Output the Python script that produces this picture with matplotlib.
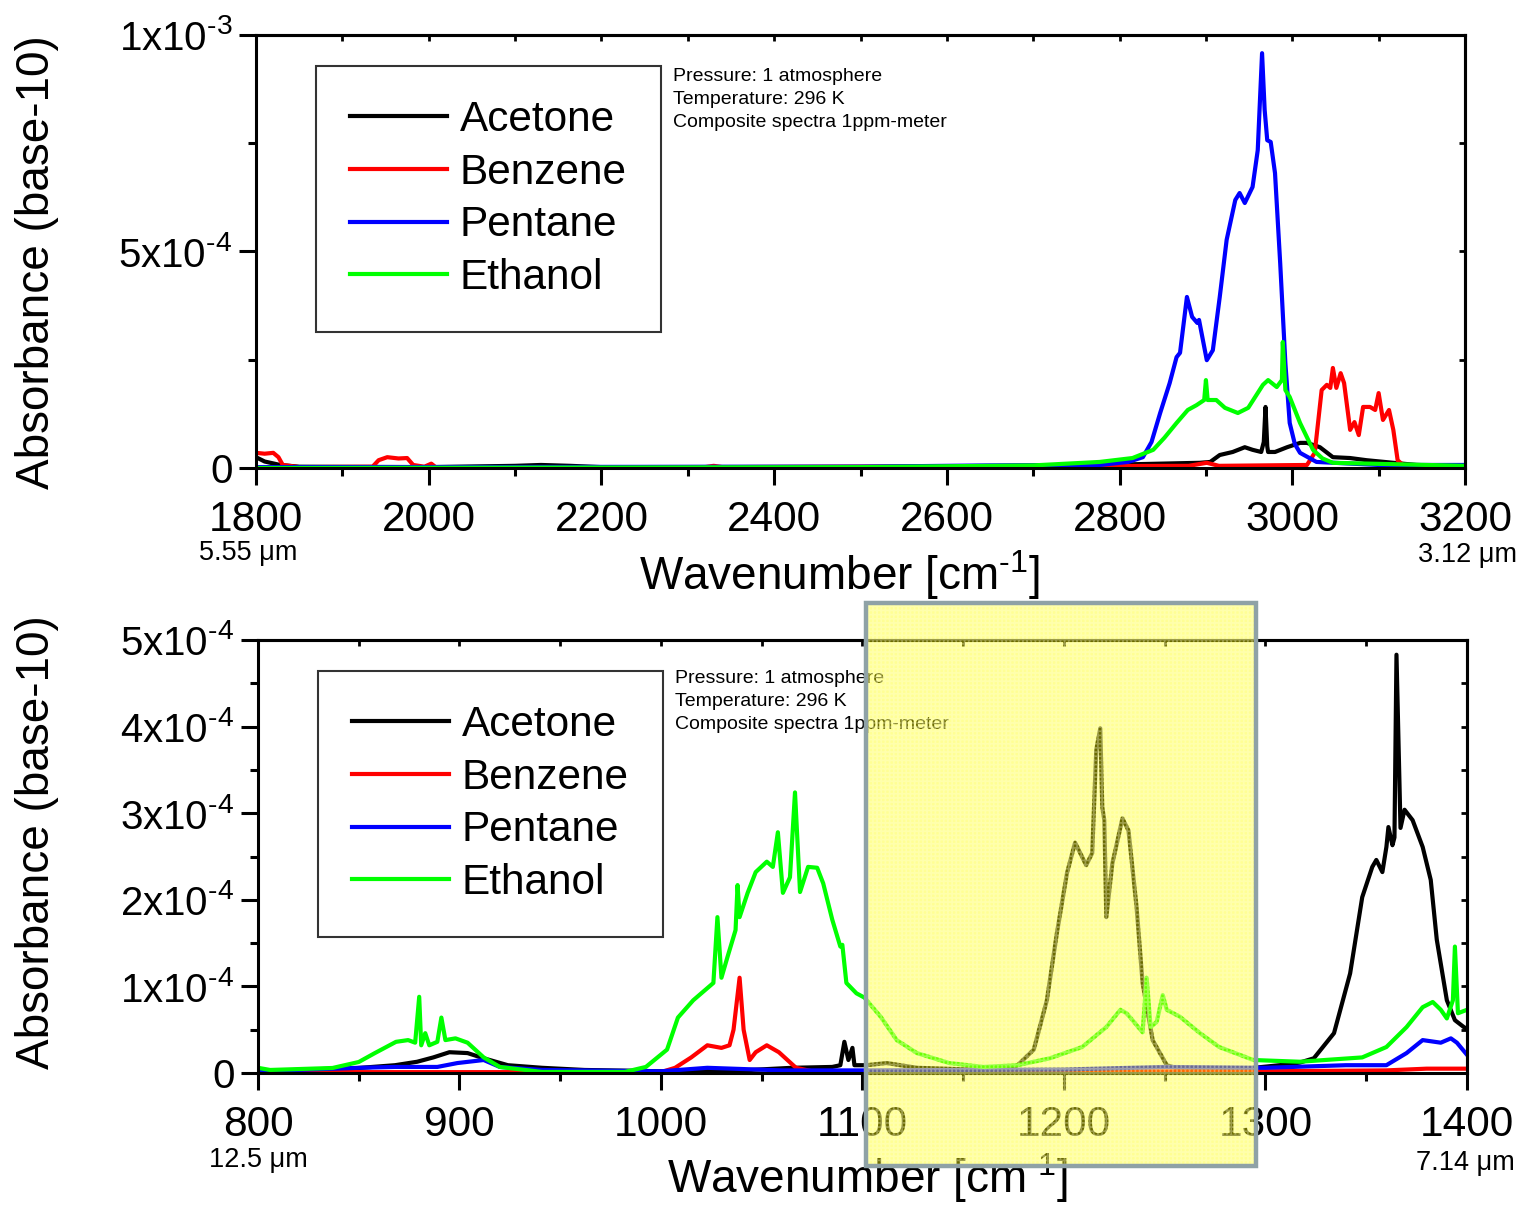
import matplotlib
matplotlib.use("Agg")
import matplotlib.pyplot as plt
from matplotlib.patches import Rectangle
from matplotlib.ticker import MultipleLocator, FixedLocator
import numpy as np

plt.rcParams['font.family'] = ['Liberation Sans', 'DejaVu Sans']
plt.rcParams['mathtext.default'] = 'regular'
plt.rcParams['hatch.linewidth'] = 1.2

# ---- data: absorbance in units of 1e-4 (base-10) ----
# top panel, 1800-3200 cm-1
top_acetone_x = [1800, 1810, 1828, 1850, 2000, 2100, 2130, 2164, 2200, 2600, 2800, 2893, 2905, 2916,
                 2931, 2945, 2954, 2964, 2967, 2969, 2971, 2972, 2980, 2994, 3009, 3017, 3032, 3047,
                 3067, 3086, 3117, 3144, 3200]
top_acetone_y = [0.25, 0.15, 0.07, 0.03, 0.02, 0.05, 0.07, 0.05, 0.02, 0.03, 0.08, 0.12, 0.14, 0.30,
                 0.37, 0.48, 0.42, 0.37, 0.60, 1.41, 0.50, 0.37, 0.37, 0.48, 0.58, 0.58, 0.48, 0.25,
                 0.23, 0.18, 0.12, 0.07, 0.04]

top_benzene_x = [1800, 1810, 1820, 1826, 1831, 1850, 1935, 1942, 1952, 1965, 1975, 1982, 1995, 2003,
                 2008, 2320, 2330, 2340, 2880, 2901, 2915, 3017, 3026, 3034, 3040, 3044, 3047, 3051,
                 3056, 3060, 3067, 3072, 3077, 3082, 3090, 3096, 3100, 3105, 3112, 3117, 3122, 3128,
                 3200]
top_benzene_y = [0.35, 0.33, 0.35, 0.25, 0.07, 0.02, 0.03, 0.18, 0.25, 0.22, 0.23, 0.07, 0.03, 0.10,
                 0.02, 0.02, 0.05, 0.02, 0.05, 0.12, 0.05, 0.07, 0.35, 1.80, 1.92, 1.85, 2.31, 1.85,
                 2.19, 1.96, 0.88, 1.06, 0.76, 1.41, 1.41, 1.34, 1.73, 1.11, 1.34, 0.88, 0.18, 0.07,
                 0.05]

top_pentane_x = [1800, 2500, 2650, 2777, 2810, 2827, 2837, 2847, 2858, 2866, 2870, 2878, 2884, 2890,
                 2892, 2901, 2908, 2916, 2924, 2934, 2939, 2945, 2954, 2960, 2965, 2968, 2971, 2975,
                 2980, 2986, 2992, 2997, 3003, 3009, 3028, 3100, 3200]
top_pentane_y = [0.02, 0.03, 0.06, 0.07, 0.14, 0.25, 0.60, 1.27, 1.96, 2.56, 2.66, 3.95, 3.49, 3.35,
                 3.42, 2.49, 2.72, 3.95, 5.27, 6.19, 6.35, 6.12, 6.49, 7.34, 9.58, 8.27, 7.57, 7.53,
                 6.81, 4.73, 2.42, 1.04, 0.55, 0.35, 0.14, 0.07, 0.07]

top_ethanol_x = [1800, 2500, 2700, 2777, 2815, 2839, 2852, 2866, 2879, 2889, 2898, 2900, 2902, 2912,
                 2922, 2937, 2949, 2966, 2972, 2982, 2988, 2989, 2992, 2997, 3009, 3024, 3035, 3047,
                 3200]
top_ethanol_y = [0.0, 0.02, 0.06, 0.14, 0.23, 0.42, 0.70, 1.04, 1.34, 1.45, 1.57, 2.03, 1.57, 1.57,
                 1.39, 1.27, 1.39, 1.92, 2.03, 1.87, 2.03, 2.91, 1.80, 1.64, 1.04, 0.42, 0.22, 0.12,
                 0.05]

# bottom panel, 800-1400 cm-1
bot_acetone_x = [800, 837, 868, 879, 887, 895, 904, 912, 924, 941, 962, 1000, 1040, 1065, 1085, 1089,
                 1091, 1093, 1095, 1096, 1102, 1112, 1127, 1160, 1170, 1177, 1185, 1191.5, 1196.5,
                 1201.5, 1205.5, 1211, 1214, 1216, 1218, 1219, 1220, 1221, 1224, 1229, 1232, 1236,
                 1239, 1244, 1251, 1259, 1290, 1307, 1317, 1324, 1334, 1342, 1348, 1353, 1355, 1358,
                 1360, 1361, 1363, 1364, 1365, 1367, 1369, 1373, 1378, 1382, 1385, 1390, 1394, 1399,
                 1400]
bot_acetone_y = [0.02, 0.035, 0.09, 0.13, 0.18, 0.24, 0.23, 0.17, 0.09, 0.06, 0.035, 0.02, 0.03, 0.06,
                 0.07, 0.09, 0.36, 0.15, 0.29, 0.09, 0.09, 0.115, 0.06, 0.035, 0.05, 0.09, 0.27, 0.84,
                 1.62, 2.31, 2.66, 2.40, 2.54, 3.73, 3.98, 3.07, 2.92, 1.80, 2.42, 2.94, 2.80, 1.92,
                 1.04, 0.38, 0.09, 0.035, 0.05, 0.09, 0.12, 0.17, 0.46, 1.15, 2.03, 2.38, 2.46, 2.32,
                 2.61, 2.84, 2.63, 2.72, 4.83, 2.83, 3.04, 2.92, 2.61, 2.23, 1.54, 0.84, 0.61, 0.52,
                 0.52]

bot_benzene_x = [800, 1000, 1007, 1015, 1023, 1030, 1034, 1036, 1039, 1041, 1044, 1047, 1052.5, 1058.5,
                 1067, 1075, 1300, 1360, 1380, 1400]
bot_benzene_y = [0.01, 0.01, 0.06, 0.18, 0.32, 0.29, 0.32, 0.50, 1.10, 0.50, 0.15, 0.24, 0.32, 0.24,
                 0.06, 0.02, 0.02, 0.03, 0.05, 0.05]

bot_pentane_x = [800, 850, 868, 889, 899, 912, 920, 941, 1000, 1023, 1060, 1100, 1200, 1250, 1300,
                 1340, 1360, 1370, 1378, 1387, 1392, 1395, 1400]
bot_pentane_y = [0.02, 0.06, 0.07, 0.07, 0.115, 0.15, 0.07, 0.035, 0.02, 0.06, 0.03, 0.03, 0.04, 0.07,
                 0.06, 0.09, 0.09, 0.23, 0.38, 0.35, 0.40, 0.35, 0.21]

bot_ethanol_x = [800, 806, 837, 850, 858, 868.5, 874.5, 878, 880, 881, 883, 885, 889, 891, 893, 898,
                 904, 912, 920, 941, 982, 992.5, 1003, 1008.4, 1016, 1023, 1026, 1028, 1030, 1033,
                 1037, 1038, 1039, 1043, 1047, 1052.5, 1055.5, 1058, 1060.5, 1064, 1066.5, 1069, 1073,
                 1077.5, 1080.5, 1085, 1089, 1090, 1092, 1097, 1101, 1109, 1117, 1127, 1143, 1160,
                 1177, 1193, 1209, 1221, 1228, 1231, 1234, 1239, 1241, 1243, 1246, 1249, 1251, 1257.5,
                 1267.5, 1277, 1294, 1317, 1348, 1360, 1370, 1378, 1383, 1387, 1390, 1393, 1394,
                 1395.5, 1400]
bot_ethanol_y = [0.06, 0.035, 0.058, 0.127, 0.23, 0.36, 0.38, 0.35, 0.88, 0.32, 0.46, 0.32, 0.36, 0.64,
                 0.38, 0.40, 0.35, 0.18, 0.07, 0.012, 0.012, 0.07, 0.27, 0.64, 0.84, 0.98, 1.04, 1.80,
                 1.10, 1.34, 1.65, 2.17, 1.80, 2.08, 2.32, 2.44, 2.38, 2.78, 2.08, 2.26, 3.24, 2.09,
                 2.38, 2.37, 2.19, 1.77, 1.46, 1.48, 1.04, 0.92, 0.87, 0.65, 0.38, 0.23, 0.115, 0.07,
                 0.09, 0.17, 0.30, 0.53, 0.73, 0.69, 0.61, 0.47, 1.10, 0.53, 0.59, 0.90, 0.73, 0.65,
                 0.46, 0.30, 0.15, 0.13, 0.18, 0.30, 0.53, 0.76, 0.82, 0.73, 0.63, 0.84, 1.46, 0.69,
                 0.73]

names = ['Acetone', 'Benzene', 'Pentane', 'Ethanol']
colors = ['#000000', '#FF0000', '#0000FF', '#00FF00']
top_series = [(top_acetone_x, top_acetone_y), (top_benzene_x, top_benzene_y),
              (top_pentane_x, top_pentane_y), (top_ethanol_x, top_ethanol_y)]
bot_series = [(bot_acetone_x, bot_acetone_y), (bot_benzene_x, bot_benzene_y),
              (bot_pentane_x, bot_pentane_y), (bot_ethanol_x, bot_ethanol_y)]

HY = '\u2010'  # plain hyphen in the exponent, like the original
top_yticks = [0, 5e-4, 1e-3]
top_yticklabels = ['0', f'$5x10^{{{HY}4}}$', f'$1x10^{{{HY}3}}$']
bot_yticks = [0, 1e-4, 2e-4, 3e-4, 4e-4, 5e-4]
bot_yticklabels = ['0'] + [f'${k}x10^{{{HY}4}}$' for k in range(1, 6)]

note = 'Pressure: 1 atmosphere\nTemperature: 296 K\nComposite spectra 1ppm-meter'

W, H = 1525, 1205
fig = plt.figure(figsize=(W / 100, H / 100), dpi=100)


def style_panel(ax, series, xlim, xmajor, xminor, ylim, yticks, yticklabels, yminor, note_y):
    for (x, y), c, n in zip(series, colors, names):
        ax.plot(x, np.array(y) * 1e-4, color=c, lw=3.0, label=n, solid_joinstyle='round')
    ax.set_xlim(*xlim)
    ax.set_ylim(*ylim)
    ax.xaxis.set_major_locator(MultipleLocator(xmajor))
    ax.xaxis.set_minor_locator(MultipleLocator(xminor))
    ax.set_yticks(yticks)
    ax.set_yticklabels(yticklabels)
    ax.yaxis.set_minor_locator(MultipleLocator(yminor))
    for s in ax.spines.values():
        s.set_linewidth(2.2)
    ax.tick_params(which='major', direction='out', length=12, width=2.2)
    ax.tick_params(which='minor', direction='out', length=6, width=2.2)
    ax.tick_params(axis='x', which='major', labelsize=30.5, pad=11)
    ax.tick_params(axis='y', which='major', labelsize=29, pad=5)
    # small inward ticks mirrored on top and right
    sx = ax.secondary_xaxis('top')
    sx.xaxis.set_major_locator(MultipleLocator(xmajor))
    sx.xaxis.set_minor_locator(MultipleLocator(xminor))
    sx.tick_params(which='both', direction='in', length=4, width=2.0, labeltop=False)
    sx.spines['top'].set_linewidth(2.2)
    sy = ax.secondary_yaxis('right')
    sy.yaxis.set_major_locator(FixedLocator(yticks))
    sy.yaxis.set_minor_locator(MultipleLocator(yminor))
    sy.tick_params(which='both', direction='in', length=4, width=2.0, labelright=False)
    sy.spines['right'].set_linewidth(2.2)
    ax.set_xlabel('Wavenumber [cm$^{' + HY + '1}$]', fontsize=33)
    ax.set_ylabel('Absorbance (base-10)', fontsize=33)
    leg = ax.legend(loc='upper left', bbox_to_anchor=(0.0496, 0.928), fontsize=30.5, frameon=True,
                    fancybox=False, edgecolor='black', borderpad=0.8, handlelength=2.3,
                    handletextpad=0.3, labelspacing=0.3, borderaxespad=0)
    leg.get_frame().set_linewidth(1.5)
    for line in leg.get_lines():
        line.set_linewidth(3.0)
    ax.text(0.345, note_y, note, transform=ax.transAxes, fontsize=14, va='top', ha='left',
            linespacing=1.45)


ax1 = fig.add_axes([256 / W, 1 - 468 / H, 1209 / W, 433 / H])
style_panel(ax1, top_series, (1800, 3200), 200, 100, (0, 1e-3), top_yticks, top_yticklabels,
            2.5e-4, 0.923)
ax1.xaxis.set_label_coords((840 - 256) / 1209, (468 - 575) / 433)
ax1.xaxis.label.set_va('center')
ax1.yaxis.set_label_coords((37 - 256) / 1209, (468 - 262) / 433)
ax1.yaxis.label.set_va('center')

ax2 = fig.add_axes([258 / W, 1 - 1073 / H, 1209 / W, 433 / H])
style_panel(ax2, bot_series, (800, 1400), 100, 50, (0, 5e-4), bot_yticks, bot_yticklabels,
            0.5e-4, 0.93)
ax2.xaxis.set_label_coords((868 - 258) / 1209, (1073 - 1178) / 433)
ax2.xaxis.label.set_va('center')
ax2.yaxis.set_label_coords((37 - 258) / 1209, (1073 - 842) / 433)
ax2.yaxis.label.set_va('center')

# wavelength labels at the axis ends
for txt, px, py in [('5.55 μm', 248, 553), ('3.12 μm', 1467, 555),
                    ('12.5 μm', 258, 1160), ('7.14 μm', 1465, 1163)]:
    fig.text(px / W, 1 - py / H, txt, fontsize=19.5, ha='center', va='center')

# highlighted window 1100-1300 cm-1
box_xy = (866 / W, 1 - 1166 / H)
box_w, box_h = (1256 - 866) / W, (1166 - 603) / H
fig.add_artist(Rectangle(box_xy, box_w, box_h, transform=fig.transFigure,
                         facecolor=(1.0, 1.0, 0.0, 0.42), edgecolor='none', zorder=20))
fig.add_artist(Rectangle(box_xy, box_w, box_h, transform=fig.transFigure, facecolor='none',
                         edgecolor=(1.0, 1.0, 0.85, 0.35), hatch='++++', linewidth=0, zorder=21))
fig.add_artist(Rectangle(box_xy, box_w, box_h, transform=fig.transFigure, facecolor='none',
                         edgecolor='#8FA2A6', linewidth=3.2, zorder=22))

fig.savefig('out.png', dpi=100)
